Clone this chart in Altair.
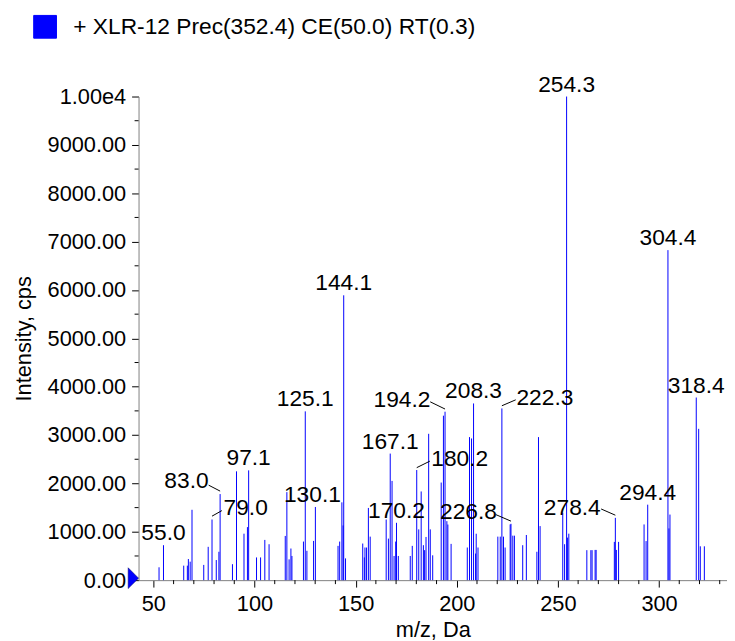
import altair as alt
import pandas as pd

# ---------------- data ----------------
series_name = "+ XLR-12 Prec(352.4) CE(50.0) RT(0.3)"

mz = [52.8, 55.0, 65.0, 66.8, 67.3, 68.2, 69.1, 74.9, 77.1, 79.0, 81.1, 82.4, 83.0,
      89.1, 91.1, 94.8, 96.5, 97.1, 101.0, 103.0, 105.1, 107.2, 115.2, 116.0, 117.1,
      118.0, 118.5, 124.2, 125.1, 125.9, 129.2, 130.1, 141.3, 142.1, 143.2, 143.8,
      144.1, 145.0, 153.5, 154.3, 154.6, 155.4, 156.3, 157.2, 165.1, 166.2, 167.1,
      168.0, 169.0, 169.8, 170.2, 171.1, 177.0, 178.0, 180.2, 181.2, 182.4, 183.5,
      184.1, 184.8, 186.1, 186.9, 188.1, 192.3, 193.4, 194.2, 195.1, 195.6, 197.2,
      205.2, 206.3, 207.3, 208.3, 209.3, 209.6, 210.5, 220.3, 221.5, 222.3, 223.1,
      223.9, 226.4, 226.8, 227.7, 228.5, 232.6, 234.4, 239.6, 240.4, 241.2, 252.4,
      253.3, 254.3, 254.7, 255.4, 264.3, 266.3, 266.9, 268.4, 268.9, 277.9, 278.4,
      278.9, 280.0, 292.6, 293.6, 294.4, 304.4, 304.9, 305.4, 318.4, 319.6, 320.4,
      322.4]

intensity = [266, 723, 300, 300, 437, 382, 1455, 315, 689, 1254, 416, 587, 1780,
             330, 2250, 961, 1097, 2270, 470, 470, 832, 743, 914, 1820, 430,
             654, 500, 798, 3490, 607, 811, 1513, 709, 798, 1609, 1131,
             5890, 450, 757, 470, 675, 675, 1493, 900, 1254, 859, 2617,
             2052, 500, 798, 1186, 500, 500, 709, 2277, 1050, 1834, 723,
             620, 893, 3026, 1050, 514, 2018, 3401, 3483, 1220, 1150, 750,
             675, 2958, 2930, 3654, 550, 960, 675, 900, 900, 3551, 900,
             675, 1152, 1165, 920, 920, 723, 934, 587, 2958, 1118, 1390,
             743, 10000, 880, 961, 620, 620, 620, 625, 625, 791, 1288,
             625, 791, 1152, 808, 1561, 6824, 1070, 1356, 3776, 3129, 700,
             700]

label_text = ["55.0", "79.0", "83.0", "97.1", "125.1", "130.1", "144.1", "167.1",
              "170.2", "180.2", "194.2", "208.3", "222.3", "226.8", "254.3",
              "278.4", "294.4", "304.4", "318.4"]

y_major = list(range(0, 10001, 1000))
y_minor = list(range(500, 10000, 1000))
x_major = list(range(50, 301, 50))
x_minor = [v for v in range(60, 331, 10) if v % 50 != 0]

# ---------------- annotation placement (pixels, relative to peak top) ----------------
label_dx = {"55.0": 0, "79.0": 34, "83.0": -34, "97.1": 0, "125.1": 0, "130.1": -3,
            "144.1": 0, "167.1": 0, "170.2": 0, "180.2": 43.5, "194.2": -43.5,
            "208.3": 0, "222.3": 43.5, "226.8": -43, "254.3": 0, "278.4": -43.5,
            "294.4": 0, "304.4": 0, "318.4": 0}
label_dy = {"79.0": -4.4, "83.0": -6, "180.2": -4.4, "194.2": -4.4, "222.3": -3.4,
            "226.8": -5.3, "278.4": -3.3}
leader = {"79.0": (0, -3.4, 10, -9), "83.0": (-11.6, -9, 0, -3),
          "180.2": (0, -2.4, 13.3, -9), "194.2": (-15, -10, 0, -2.7),
          "222.3": (0, -2.7, 14, -8.7), "226.8": (-15.3, -9.3, 0, -2.7),
          "278.4": (-14.4, -9, 0, -2.7)}

XMIN, XMAX = 42.67, 333.6
YMIN, YMAX = 0, 10000
W, H = 595, 489
kx = W / (XMAX - XMIN)
ky = H / (YMAX - YMIN)
FONT = "Liberation Sans"

peaks_df = pd.DataFrame({"mz": mz, "intensity": intensity, "series": series_name})
lookup = dict(zip(mz, intensity))

lab_rows, lead_rows = [], []
for t in label_text:
    m = float(t)
    inten = lookup[m]
    dx = label_dx.get(t, 0)
    dy = label_dy.get(t, -5)
    lab_rows.append({"label": t, "lx": m + dx / kx, "ly": inten - dy / ky})
    if t in leader:
        a, b, c, d = leader[t]
        lead_rows.append({"x1": m + a / kx, "y1": inten - b / ky,
                          "x2": m + c / kx, "y2": inten - d / ky})
labels_df = pd.DataFrame(lab_rows)
leaders_df = pd.DataFrame(lead_rows)
marker_df = pd.DataFrame({"mz": [XMIN], "v": [0]})

xs = alt.Scale(domain=[XMIN, XMAX], nice=False, zero=False)
ys = alt.Scale(domain=[YMIN, YMAX], nice=False)

common_axis = dict(grid=False, domainColor="#808080", tickColor="black", tickSize=7,
                   labelFont=FONT, labelFontSize=22, labelColor="black",
                   titleFont=FONT, titleFontSize=22, titleFontWeight="normal",
                   titleColor="black", labelOverlap=False, labelFlush=False)

xaxis = alt.Axis(values=x_major, format="d", labelPadding=7, titlePadding=5, **common_axis)
yaxis = alt.Axis(values=y_major,
                 labelExpr="datum.value === 10000 ? '1.00e4' : format(datum.value, '.2f')",
                 labelPadding=6, titlePadding=12, **common_axis)

peaks = alt.Chart(peaks_df).mark_rule(strokeWidth=1).encode(
    x=alt.X("mz:Q", scale=xs, axis=xaxis, title="m/z, Da"),
    y=alt.Y("intensity:Q", scale=ys, axis=yaxis, title="Intensity, cps"),
    y2=alt.datum(0),
    color=alt.Color("series:N", scale=alt.Scale(range=["#0000ff"]),
                    legend=alt.Legend(title=None, orient="none", legendX=-107, legendY=-83,
                                      symbolType="square", symbolSize=530,
                                      symbolFillColor="#0000ff", symbolStrokeColor="#000060",
                                      symbolStrokeWidth=1, labelFont=FONT, labelFontSize=23,
                                      labelColor="black", labelOffset=16, padding=0,
                                      labelLimit=600)),
)

xminor = alt.Chart(pd.DataFrame({"v": x_minor})).mark_rule(color="black", strokeWidth=1).encode(
    x=alt.X("v:Q", scale=xs), y=alt.value(H), y2=alt.value(H + 4))
yminor = alt.Chart(pd.DataFrame({"v": y_minor})).mark_rule(color="black", strokeWidth=1).encode(
    y=alt.Y("v:Q", scale=ys), x=alt.value(0), x2=alt.value(-4))

leaders = alt.Chart(leaders_df).mark_rule(color="black", strokeWidth=1).encode(
    x=alt.X("x1:Q", scale=xs), x2="x2:Q", y=alt.Y("y1:Q", scale=ys), y2="y2:Q")

labels = alt.Chart(labels_df).mark_text(font=FONT, fontSize=23, align="center",
                                        baseline="alphabetic", color="black").encode(
    x=alt.X("lx:Q", scale=xs), y=alt.Y("ly:Q", scale=ys), text="label:N")

marker = alt.Chart(marker_df).mark_point(shape="M -1 -1 L 0 0 L -1 1 Z", size=441,
                                         filled=True, fill="#0000ff", stroke="#000060",
                                         strokeWidth=0.5, opacity=1, yOffset=-2).encode(
    x=alt.X("mz:Q", scale=xs), y=alt.Y("v:Q", scale=ys))

chart = alt.layer(peaks, xminor, yminor, leaders, labels, marker).properties(
    width=W, height=H, autosize="none",
    padding={"left": 132, "top": 86, "right": 0, "bottom": 58},
).configure_view(stroke=None)

chart.save("out.html", embed_options={"renderer": "svg", "actions": False})
